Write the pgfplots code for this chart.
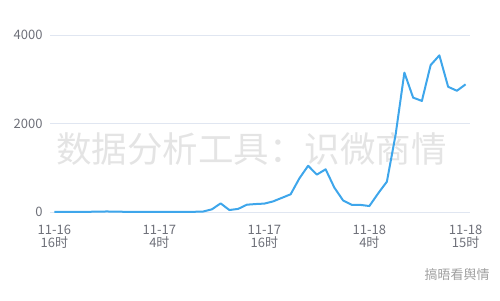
\documentclass[border=0pt]{standalone}
\usepackage{pgfplots}
\pgfplotsset{compat=1.18}
\usepackage{fontspec}
\setmainfont{Noto Sans CJK SC}
\definecolor{linec}{RGB}{62,166,235}
\definecolor{tickc}{RGB}{110,112,121}
\definecolor{gridc}{RGB}{224,230,241}
\definecolor{wmc}{RGB}{228,228,228}
\begin{document}
\begin{tikzpicture}[x=1pt,y=1pt]
\useasboundingbox (-50,-88) rectangle (450,212);
\node[font=\fontsize{35.5}{36}\selectfont, text=wmc, inner sep=0pt] at (201.5,63) {数据分析工具：识微商情};
\node[font=\fontsize{13}{14}\selectfont, text=gray!75, inner sep=0pt] at (407,-63) {搞晤看舆情};
\begin{axis}[
  at={(0,0)}, anchor=south west,
  scale only axis, width=420pt, height=177pt,
  xmin=-0.5, xmax=47.5, ymin=0, ymax=4000,
  axis line style={draw=none},
  xtick pos=bottom, ytick pos=left,
  ytick={0,2000,4000},
  xtick={0,12,24,36,47},
  xticklabels={{11-16\\16时},{11-17\\4时},{11-17\\16时},{11-18\\4时},{11-18\\15时}},
  xticklabel style={align=center, font=\fontsize{13}{12.5}\selectfont, text=tickc, yshift=-10pt},
  yticklabel style={font=\fontsize{13}{14}\selectfont, text=tickc, xshift=-4pt},
  /pgf/number format/assume math mode=true,
  /pgf/number format/1000 sep={},
  ymajorgrids, grid style={gridc, line width=0.8pt},
  major tick length=0pt,
  clip=false,
]
\draw[gridc, line width=0.8pt] (axis cs:-0.5,0) -- (axis cs:47.5,0);
\addplot[linec, line width=2pt, mark=none, line join=round] coordinates {
(0,5)(1,5)(2,5)(3,5)(4,5)(5,8)(6,12)(7,8)(8,5)(9,5)(10,5)(11,5)(12,5)(13,5)(14,5)(15,5)(16,5)
(17,10)(18,60)(19,195)(20,45)(21,70)(22,165)(23,180)(24,190)(25,240)(26,320)(27,400)
(28,760)(29,1045)(30,845)(31,965)(32,550)(33,260)(34,160)(35,160)(36,135)(37,420)(38,685)
(39,1750)(40,3150)(41,2585)(42,2510)(43,3320)(44,3540)(45,2830)(46,2740)(47,2885)
};
\end{axis}
\end{tikzpicture}
\end{document}
